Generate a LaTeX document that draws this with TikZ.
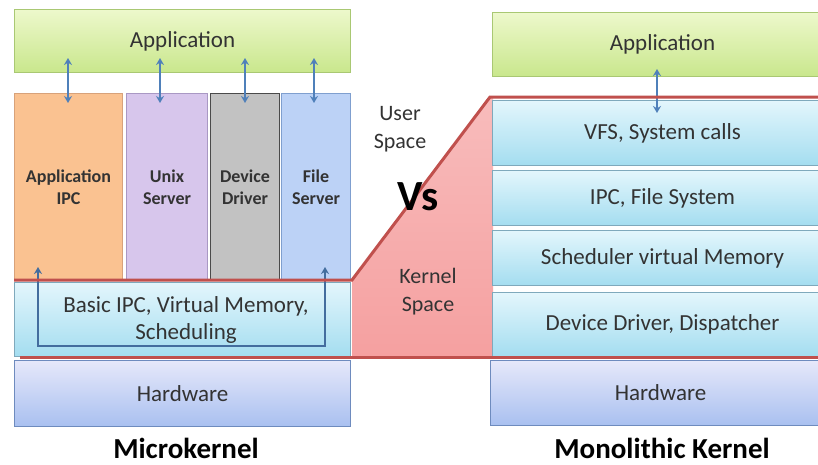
\documentclass[tikz,border=0pt]{standalone}
\usepackage{fontspec}
\setmainfont{Carlito}
\usetikzlibrary{arrows.meta}
\definecolor{txt}{HTML}{333333}
\definecolor{appTop}{HTML}{EDF8CC}
\definecolor{appBot}{HTML}{C9E78C}
\definecolor{appBd}{HTML}{A9C873}
\definecolor{orFill}{HTML}{FAC291}
\definecolor{orBd}{HTML}{D8A27A}
\definecolor{puFill}{HTML}{D7C6EC}
\definecolor{puBd}{HTML}{A998C4}
\definecolor{grFill}{HTML}{C2C2C2}
\definecolor{grBd}{HTML}{4A4A4A}
\definecolor{blFill}{HTML}{BCD2F6}
\definecolor{blBd}{HTML}{7F9FCF}
\definecolor{cyTop}{HTML}{E3F6FC}
\definecolor{cyBot}{HTML}{A4DDF0}
\definecolor{cyBd}{HTML}{7FA9BC}
\definecolor{hwTop}{HTML}{E6E8FA}
\definecolor{hwBot}{HTML}{A9C0F0}
\definecolor{hwBd}{HTML}{6E8BBE}
\definecolor{pkTop}{HTML}{F8BCBC}
\definecolor{pkBot}{HTML}{F5A0A0}
\definecolor{redline}{HTML}{C0504D}
\definecolor{arr}{HTML}{4F80BA}
\begin{document}
\begin{tikzpicture}[x=1pt,y=-1pt,
  box/.style={draw, line width=1pt, anchor=north west, inner sep=0pt, align=center,
    text=txt, font=\fontsize{23}{27}\selectfont},
  appbox/.style={box, draw=appBd, top color=appTop, bottom color=appBot},
  cybox/.style={box, draw=cyBd, top color=cyTop, bottom color=cyBot},
  hwbox/.style={box, draw=hwBd, top color=hwTop, bottom color=hwBot},
  colbox/.style={box, font=\fontsize{18}{22}\selectfont\bfseries},
  arrline/.style={draw=arr, line width=1.8pt, {Stealth[length=7pt,width=8pt]}-{Stealth[length=7pt,width=8pt]}},
  redl/.style={draw=redline, line width=3pt},
  title/.style={anchor=base, inner sep=0pt, font=\fontsize{29}{31}\selectfont\bfseries, text=black},
  side/.style={align=center, text=txt, font=\fontsize{22}{28}\selectfont}]
\useasboundingbox (0,0) rectangle (818,464);
\clip (0,0) rectangle (818,464);
\fill[white] (0,0) rectangle (818,464);

% kernel space pink region
\path[top color=pkTop, bottom color=pkBot] (352,280) -- (490,97) -- (493,97) -- (493,357) -- (352,357) -- cycle;

% ---------- Microkernel ----------
\node[appbox, minimum width=336pt, minimum height=63pt] (appL) at (14,9) {Application};
\node[colbox, draw=orBd, fill=orFill, minimum width=108pt, minimum height=187pt] (c1) at (14,93) {Application\\IPC};
\node[colbox, draw=puBd, fill=puFill, minimum width=81pt, minimum height=187pt] (c2) at (126,93) {Unix\\Server};
\node[colbox, draw=grBd, fill=grFill, minimum width=69pt, minimum height=187pt] (c3) at (210,93) {Device\\Driver};
\node[colbox, draw=blBd, fill=blFill, minimum width=69pt, minimum height=187pt] (c4) at (281,93) {File\\Server};
\node[cybox, minimum width=336pt, minimum height=74pt] (kL) at (14,282) {};
\node[align=center, text=txt, font=\fontsize{23}{27}\selectfont] (kLt) at (186,320) {Basic IPC, Virtual Memory,\\Scheduling};
\node[hwbox, minimum width=336pt, minimum height=66pt] (hwL) at (14,360) {Hardware};
\node[title] (tL) at (186,458) {Microkernel};

% arrows app <-> servers
\coordinate (a1t) at (68,58);  \coordinate (a1b) at (68,103);
\coordinate (a2t) at (160,58); \coordinate (a2b) at (160,103);
\coordinate (a3t) at (245,58); \coordinate (a3b) at (245,103);
\coordinate (a4t) at (314,58); \coordinate (a4b) at (314,103);
\path[arrline] (a1t) -- (a1b);
\path[arrline] (a2t) -- (a2b);
\path[arrline] (a3t) -- (a3b);
\path[arrline] (a4t) -- (a4b);

% U-shaped arrow in kernel
\coordinate (ul) at (38,267); \coordinate (ulb) at (38,346);
\coordinate (ur) at (325,267); \coordinate (urb) at (325,346);
\path[draw=arr!85!black, line width=1.6pt, {Stealth[length=7pt,width=8pt]}-{Stealth[length=7pt,width=8pt]}] (ul) -- (ulb) -- (urb) -- (ur);

% ---------- Monolithic ----------
\node[appbox, minimum width=340pt, minimum height=64pt] (appR) at (492,12) {Application};
\node[cybox, minimum width=340pt, minimum height=65pt] (vfs) at (492,100) {VFS, System calls};
\node[cybox, minimum width=340pt, minimum height=55pt] (ipc) at (492,170) {IPC, File System};
\node[cybox, minimum width=340pt, minimum height=55pt] (sch) at (492,230) {Scheduler virtual Memory};
\node[cybox, minimum width=340pt, minimum height=64pt] (dd) at (492,292) {Device Driver, Dispatcher};
\node[hwbox, minimum width=340pt, minimum height=65pt] (hwR) at (490,360) {Hardware};
\node[title] (tR) at (662,458) {Monolithic Kernel};

\coordinate (art) at (657,69); \coordinate (arb) at (657,113);
\path[arrline] (art) -- (arb);

% boundary lines
\coordinate (r1) at (14,280); \coordinate (r2) at (352,280);
\coordinate (r3) at (490,97); \coordinate (r4) at (830,97);
\path[redl] (r1) -- (r2) -- (r3) -- (r4);
\coordinate (b1) at (20,357); \coordinate (b2) at (830,357);
\path[redl] (b1) -- (b2);

% middle labels
\node[side] (us) at (400,129) {User\\Space};
\node[font=\fontsize{43}{46}\selectfont\bfseries, text=black] (vs) at (418,197) {Vs};
\node[side] (ks) at (428,292) {Kernel\\Space};
\end{tikzpicture}
\end{document}
